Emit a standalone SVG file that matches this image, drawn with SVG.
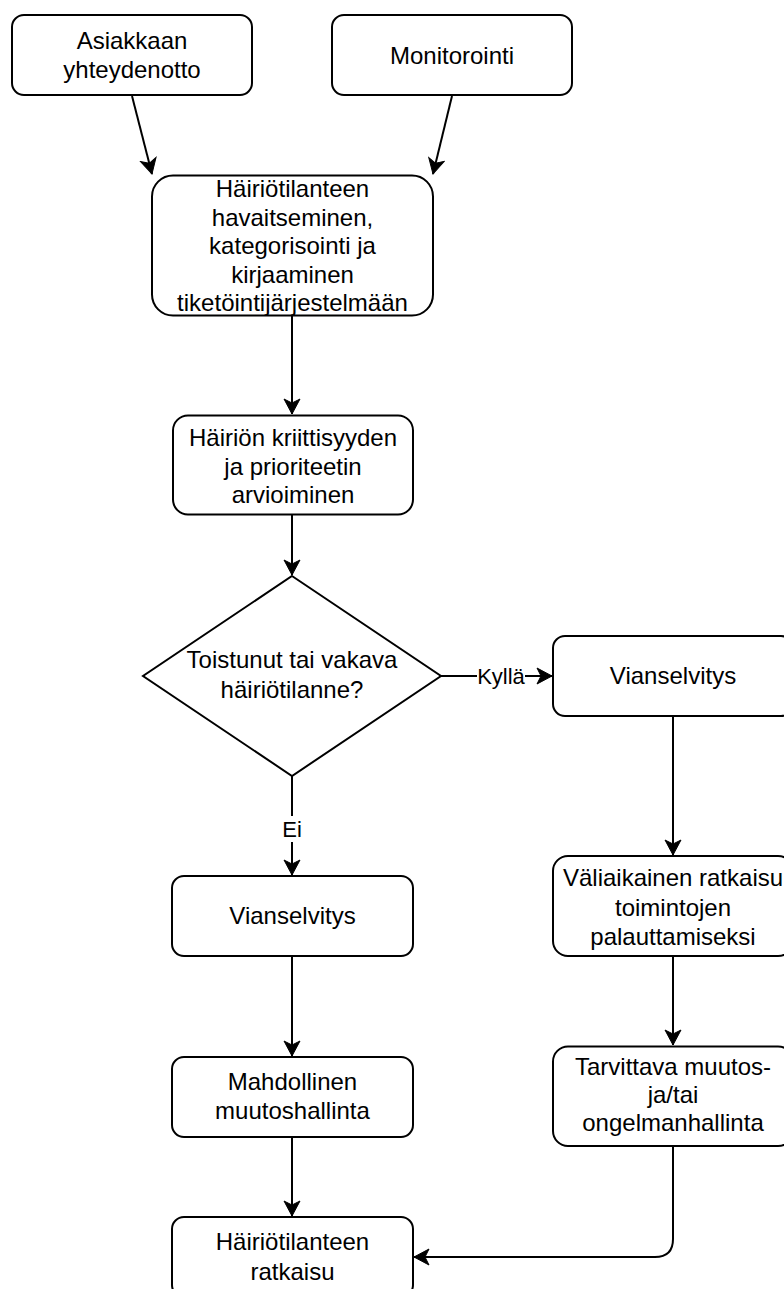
<svg xmlns="http://www.w3.org/2000/svg" width="784" height="1289" viewBox="0 0 784 1289">
  <style>
    .box { fill: #ffffff; stroke: #000000; stroke-width: 2; }
    .lbl { font-family: "Liberation Sans", Arial, sans-serif; font-size: 24px; fill: #000000; text-anchor: middle; }
    .elbl { font-family: "Liberation Sans", Arial, sans-serif; font-size: 22px; fill: #000000; text-anchor: middle; }
    .edge { fill: none; stroke: #000000; stroke-width: 2; }
  </style>
  <defs>
    <marker id="arrow" markerUnits="userSpaceOnUse" markerWidth="18" markerHeight="18" viewBox="-16 -9 18 18" refX="0" refY="0" orient="auto">
      <path d="M0,0 L-15,-8 L-11,0 L-15,8 Z" fill="#000000" stroke="#000000" stroke-width="1"/>
    </marker>
  </defs>
  <rect width="784" height="1289" fill="#ffffff"/>

  <!-- connectors -->
  <g id="connectors">
    <path class="edge" d="M132,96 L152,174" marker-end="url(#arrow)"/>
    <path class="edge" d="M452,96 L433,174" marker-end="url(#arrow)"/>
    <path class="edge" d="M292,316 L292,414" marker-end="url(#arrow)"/>
    <path class="edge" d="M292,515 L292,575" marker-end="url(#arrow)"/>
    <path class="edge" d="M441,676 L552,676" marker-end="url(#arrow)"/>
    <path class="edge" d="M292,776 L292,875" marker-end="url(#arrow)"/>
    <path class="edge" d="M292,956 L292,1056" marker-end="url(#arrow)"/>
    <path class="edge" d="M292,1137 L292,1216" marker-end="url(#arrow)"/>
    <path class="edge" d="M673,716 L673,855" marker-end="url(#arrow)"/>
    <path class="edge" d="M673,956 L673,1045" marker-end="url(#arrow)"/>
    <path class="edge" d="M673,1146 L673,1239 Q673,1257 655,1257 L414,1257" marker-end="url(#arrow)"/>
    <!-- edge labels -->
    <rect x="477" y="664" width="48" height="24" fill="#ffffff"/>
    <text class="elbl" x="501" y="684">Kyllä</text>
    <rect x="282" y="816" width="20" height="26" fill="#ffffff"/>
    <text class="elbl" x="292" y="837">Ei</text>
  </g>

  <g id="n-asiakas">
    <rect class="box" x="12" y="15" width="240" height="80" rx="12" ry="12"/>
    <text class="lbl" x="132" y="49">Asiakkaan</text>
    <text class="lbl" x="132" y="78">yhteydenotto</text>
  </g>

  <g id="n-monitorointi">
    <rect class="box" x="332" y="15" width="240" height="80" rx="12" ry="12"/>
    <text class="lbl" x="452" y="64">Monitorointi</text>
  </g>

  <g id="n-havaitseminen">
    <rect class="box" x="152" y="175.5" width="281" height="140" rx="21" ry="21"/>
    <text class="lbl" x="292.5" y="197">Häiriötilanteen</text>
    <text class="lbl" x="292.5" y="226">havaitseminen,</text>
    <text class="lbl" x="292.5" y="254">kategorisointi ja</text>
    <text class="lbl" x="292.5" y="283">kirjaaminen</text>
    <text class="lbl" x="292.5" y="311">tiketöintijärjestelmään</text>
  </g>

  <g id="n-arviointi">
    <rect class="box" x="173" y="415.5" width="240" height="99" rx="15" ry="15"/>
    <text class="lbl" x="293" y="446">Häiriön kriittisyyden</text>
    <text class="lbl" x="293" y="475">ja prioriteetin</text>
    <text class="lbl" x="293" y="503">arvioiminen</text>
  </g>

  <g id="n-paatos">
    <path class="box" d="M292,576 L441,676 L292,776 L143,676 Z"/>
    <text class="lbl" x="292" y="668">Toistunut tai vakava</text>
    <text class="lbl" x="292" y="698">häiriötilanne?</text>
  </g>

  <g id="n-vianselvitys-kylla">
    <rect class="box" x="553" y="636" width="240" height="80" rx="12" ry="12"/>
    <text class="lbl" x="673" y="684">Vianselvitys</text>
  </g>

  <g id="n-valiaikainen">
    <rect class="box" x="553" y="856" width="240" height="100" rx="15" ry="15"/>
    <text class="lbl" x="673" y="886">Väliaikainen ratkaisu</text>
    <text class="lbl" x="673" y="916">toimintojen</text>
    <text class="lbl" x="673" y="945">palauttamiseksi</text>
  </g>

  <g id="n-tarvittava">
    <rect class="box" x="553" y="1046.5" width="240" height="99.5" rx="15" ry="15"/>
    <text class="lbl" x="673" y="1075">Tarvittava muutos-</text>
    <text class="lbl" x="673" y="1103">ja/tai</text>
    <text class="lbl" x="673" y="1131">ongelmanhallinta</text>
  </g>

  <g id="n-vianselvitys-ei">
    <rect class="box" x="172" y="876" width="241" height="80" rx="12" ry="12"/>
    <text class="lbl" x="292.5" y="924">Vianselvitys</text>
  </g>

  <g id="n-muutoshallinta">
    <rect class="box" x="172" y="1057" width="241" height="80" rx="12" ry="12"/>
    <text class="lbl" x="292.5" y="1090">Mahdollinen</text>
    <text class="lbl" x="292.5" y="1119">muutoshallinta</text>
  </g>

  <g id="n-ratkaisu">
    <rect class="box" x="172" y="1217" width="241" height="80" rx="12" ry="12"/>
    <text class="lbl" x="292.5" y="1250">Häiriötilanteen</text>
    <text class="lbl" x="292.5" y="1280">ratkaisu</text>
  </g>
</svg>
